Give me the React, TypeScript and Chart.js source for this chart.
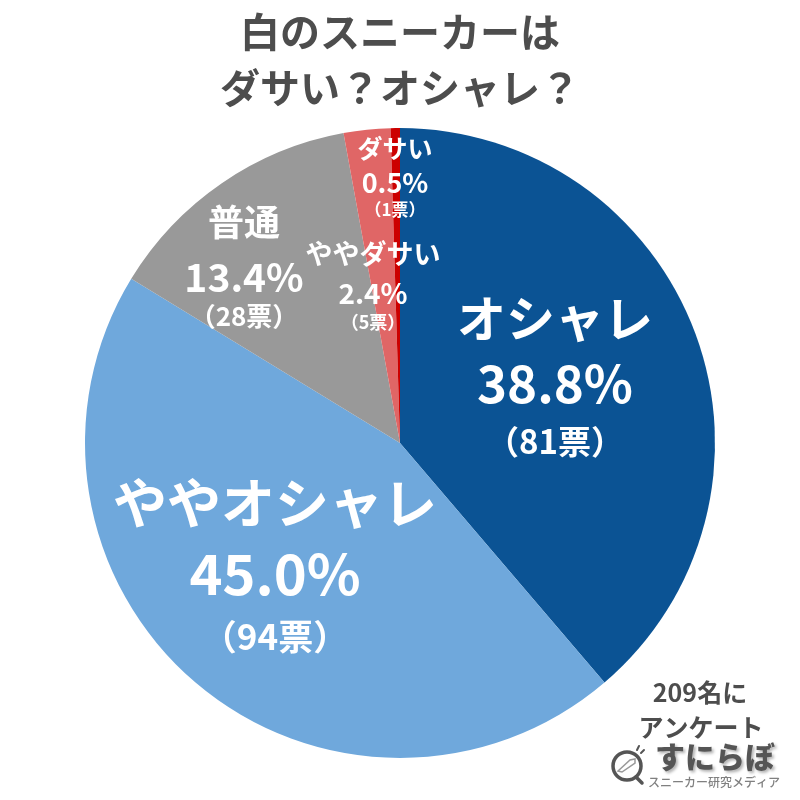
import React, { useEffect, useRef } from "react";
import { Chart, registerables } from "chart.js";

Chart.register(...registerables);

const categories = ["オシャレ", "ややオシャレ", "普通", "ややダサい", "ダサい"];
const votes = [81, 94, 28, 5, 1];
const percents = ["38.8%", "45.0%", "13.4%", "2.4%", "0.5%"];
const voteLabels = ["（81票）", "（94票）", "（28票）", "（5票）", "（1票）"];
const colors = ["#0b5394", "#6fa8dc", "#999999", "#e06666", "#cc0000"];
const titleLines = ["白のスニーカーは", "ダサい？オシャレ？"];
const noteLines = ["209名に", "アンケート"];
const logoName = "すにらぼ";
const logoSub = "スニーカー研究メディア";

const FONT = '"Noto Sans CJK JP", "Noto Sans", sans-serif';
const GREY = "#4d4d4d";

// x, y of the three lines and their font sizes
const labelLayout = [
  { x: 555, y: [318, 384, 441], size: [49, 51, 33] },
  { x: 275, y: [503, 574, 637], size: [54, 56, 35] },
  { x: 244, y: [222, 277, 316], size: [36, 39, 26] },
  { x: 373, y: [254, 293, 322], size: [27, 28, 18] },
  { x: 395, y: [148, 183, 210], size: [25, 27, 17] },
];

const labelsPlugin = {
  id: "sliceLabels",
  afterDraw(chart: any) {
    const c = chart.ctx as CanvasRenderingContext2D;
    c.save();
    c.textAlign = "center";
    c.textBaseline = "middle";
    c.fillStyle = "#ffffff";
    categories.forEach((name, i) => {
      const l = labelLayout[i];
      [name, percents[i], voteLabels[i]].forEach((t, j) => {
        c.font = `bold ${l.size[j]}px ${FONT}`;
        c.fillText(t, l.x, l.y[j]);
      });
    });

    c.fillStyle = GREY;
    c.font = `bold 25px ${FONT}`;
    c.fillText(noteLines[0], 700, 692);
    c.fillText(noteLines[1], 701, 727);

    // logo lettering
    c.save();
    c.shadowColor = "rgba(0,0,0,0.3)";
    c.shadowBlur = 3;
    c.shadowOffsetX = 2;
    c.shadowOffsetY = 2;
    c.font = `900 30px ${FONT}`;
    c.fillStyle = "#555555";
    c.fillText(logoName, 715, 757);
    c.restore();
    c.font = `500 12px ${FONT}`;
    c.fillStyle = "#808080";
    c.fillText(logoSub, 714, 782);

    // magnifier
    c.strokeStyle = "#555555";
    c.lineWidth = 3.5;
    c.lineCap = "round";
    c.beginPath();
    c.arc(627, 766, 14, 0, Math.PI * 2);
    c.stroke();
    c.beginPath();
    c.moveTo(636, 777);
    c.lineTo(642, 783);
    c.stroke();
    c.lineWidth = 2;
    c.beginPath();
    c.moveTo(637, 750);
    c.lineTo(639, 746);
    c.moveTo(641, 753);
    c.lineTo(644, 750);
    c.stroke();
    // shoe
    c.strokeStyle = "#999999";
    c.lineWidth = 1.5;
    c.beginPath();
    c.moveTo(618, 771);
    c.lineTo(630, 760);
    c.lineTo(635, 759);
    c.lineTo(635, 763);
    c.lineTo(622, 772);
    c.closePath();
    c.stroke();
    c.restore();
  },
};

export default function App() {
  const ref = useRef<HTMLCanvasElement>(null);
  useEffect(() => {
    const chart = new Chart(ref.current!, {
      type: "pie",
      data: {
        labels: categories,
        datasets: [
          { data: votes, backgroundColor: colors, borderWidth: 0 },
        ],
      },
      options: {
        responsive: false,
        animation: false,
        layout: { padding: { top: 0, bottom: 42, left: 85, right: 85 } },
        plugins: {
          legend: { display: false },
          tooltip: { enabled: false },
          title: {
            display: true,
            text: titleLines,
            color: GREY,
            font: { family: FONT, size: 40, weight: "bold", lineHeight: 1.4 },
            padding: { top: 4, bottom: 12 },
          },
        },
      },
      plugins: [labelsPlugin],
    } as any);
    return () => chart.destroy();
  }, []);
  return (
    <div style={{ position: "fixed", left: 0, top: 0, width: 800, height: 800, background: "#fff" }}>
      <canvas ref={ref} width={800} height={800} style={{ display: "block" }} />
    </div>
  );
}
